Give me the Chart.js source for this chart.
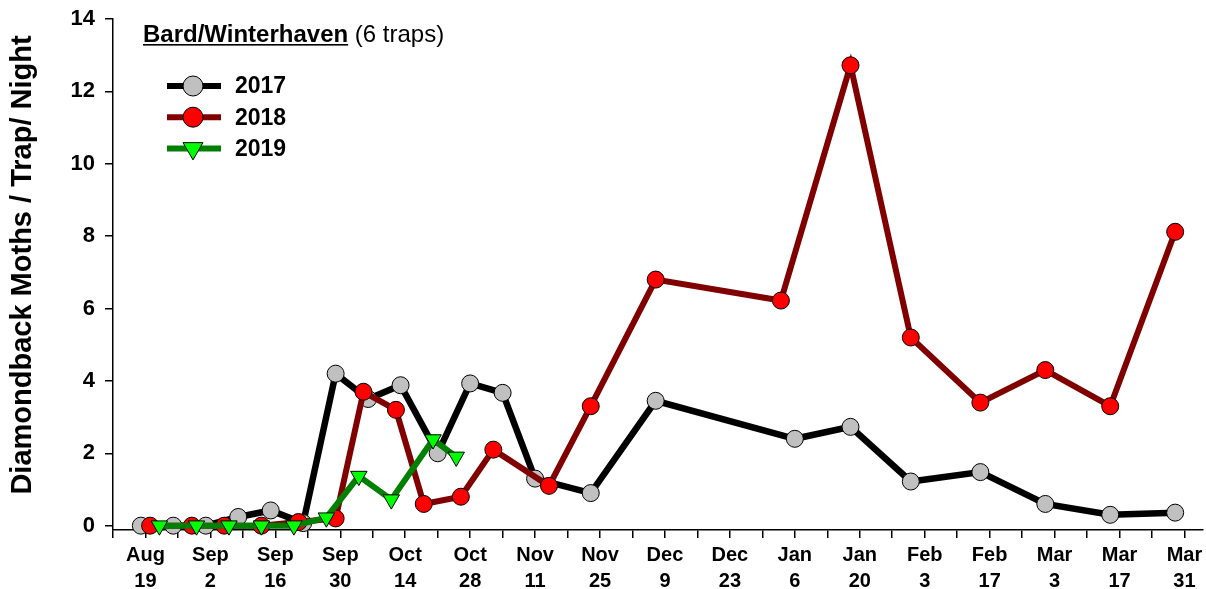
<!DOCTYPE html>
<html>
<head>
<meta charset="utf-8">
<script src="https://cdn.jsdelivr.net/npm/chart.js@4.4.1/dist/chart.umd.min.js"></script>
<style>
  body { margin: 0; background: #fff; }
</style>
</head>
<body>
<canvas id="chart" width="1206" height="589"></canvas>
<script>
// x values are days counted from Aug 19
const days2017 = [-1, 6, 13, 20, 27, 34, 41, 48, 55, 63, 70, 77, 84, 96, 110, 140, 152, 165, 180, 194, 208, 222];
const moths2017 = [0, 0, 0, 0.24, 0.42, 0.07, 4.2, 3.5, 3.88, 2.0, 3.93, 3.67, 1.3, 0.9, 3.45, 2.4, 2.73, 1.22, 1.48, 0.6, 0.3, 0.36];

const days2018 = [1, 10, 17, 25, 33, 41, 47, 54, 60, 68, 75, 87, 96, 110, 137, 152, 165, 180, 194, 208, 222];
const moths2018 = [0, 0, 0, 0, 0.1, 0.2, 3.7, 3.2, 0.6, 0.8, 2.1, 1.1, 3.3, 6.8, 6.22, 12.72, 5.2, 3.4, 4.3, 3.3, 8.12];

const days2019 = [3, 11, 18, 25, 32, 39, 46, 53, 62, 67];
const moths2019 = [0, 0, 0, 0, 0, 0.22, 1.37, 0.72, 2.38, 1.9];

// one label every 14 days, starting Aug 19
const xTickLabels = [
  ["Aug", "19"], ["Sep", "2"], ["Sep", "16"], ["Sep", "30"], ["Oct", "14"],
  ["Oct", "28"], ["Nov", "11"], ["Nov", "25"], ["Dec", "9"], ["Dec", "23"],
  ["Jan", "6"], ["Jan", "20"], ["Feb", "3"], ["Feb", "17"], ["Mar", "3"],
  ["Mar", "17"], ["Mar", "31"],
];
const yTicks = [0, 2, 4, 6, 8, 10, 12, 14];

const FONT = "'Liberation Sans', Arial, sans-serif";

function points(days, values) {
  return days.map((d, i) => ({ x: d, y: values[i] }));
}

function drawMarker(ctx, ds, x, y, r) {
  ctx.fillStyle = ds.pointBackgroundColor;
  ctx.strokeStyle = "#000";
  ctx.lineWidth = 1;
  ctx.beginPath();
  if (ds.pointStyle === "triangle") {
    ctx.moveTo(x, y + r);
    ctx.lineTo(x - 0.866 * r, y - 0.5 * r);
    ctx.lineTo(x + 0.866 * r, y - 0.5 * r);
    ctx.closePath();
  } else {
    ctx.arc(x, y, r, 0, Math.PI * 2);
  }
  ctx.fill();
  ctx.stroke();
}

const legendPlugin = {
  id: "trapLegend",
  afterDatasetsDraw(chart) {
    const ctx = chart.ctx;
    ctx.save();
    ctx.fillStyle = "#000";
    ctx.textBaseline = "alphabetic";
    ctx.font = "bold 24px " + FONT;
    ctx.fillText("Bard/Winterhaven", 143, 42);
    const w = ctx.measureText("Bard/Winterhaven").width;
    ctx.fillRect(143, 44, w, 1.6);
    ctx.font = "24px " + FONT;
    ctx.fillText(" (6 traps)", 143 + w, 42);

    chart.data.datasets.forEach((ds, i) => {
      const y = 86 + i * 31.2;
      ctx.strokeStyle = ds.borderColor;
      ctx.lineWidth = 6;
      ctx.beginPath();
      ctx.moveTo(167, y);
      ctx.lineTo(221, y);
      ctx.stroke();
      drawMarker(ctx, ds, 193, y, ds.pointStyle === "triangle" ? 11.5 : 10);
      ctx.fillStyle = "#000";
      ctx.font = "bold 23px " + FONT;
      ctx.textBaseline = "middle";
      ctx.fillText(ds.label, 235, y + 1);
    });

    // y axis title, a little above the axis centre as in the original
    ctx.translate(23, 265);
    ctx.rotate(-Math.PI / 2);
    ctx.font = "bold 29px " + FONT;
    ctx.textAlign = "center";
    ctx.textBaseline = "middle";
    ctx.fillText("Diamondback Moths / Trap/ Night", 0, 0);
    ctx.restore();
  },
};

const data = {
  datasets: [
    {
      label: "2017",
      data: points(days2017, moths2017),
      borderColor: "#000000",
      borderWidth: 6.5,
      pointBackgroundColor: "#c0c0c0",
      pointBorderColor: "#000",
      pointBorderWidth: 1,
      pointRadius: 8.5,
      pointStyle: "circle",
      order: 3,
    },
    {
      label: "2018",
      data: points(days2018, moths2018),
      borderColor: "#800000",
      borderWidth: 6,
      pointBackgroundColor: "#ff0000",
      pointBorderColor: "#000",
      pointBorderWidth: 1,
      pointRadius: 8.5,
      pointStyle: "circle",
      order: 2,
    },
    {
      label: "2019",
      data: points(days2019, moths2019),
      borderColor: "#008000",
      borderWidth: 6,
      pointBackgroundColor: "#00ff00",
      pointBorderColor: "#000",
      pointBorderWidth: 1,
      pointRadius: 9.5,
      pointStyle: "triangle",
      pointRotation: 180,
      order: 1,
    },
  ],
};

const config = {
  type: "line",
  data: data,
  plugins: [legendPlugin],
  options: {
    responsive: false,
    animation: false,
    layout: { autoPadding: false, padding: { top: 19, right: 3, left: 0, bottom: 0 } },
    elements: { line: { tension: 0 } },
    datasets: { line: { clip: false } },
    plugins: {
      legend: { display: false },
      tooltip: { enabled: false },
    },
    scales: {
      x: {
        type: "linear",
        min: -7,
        max: 228,
        grid: {
          drawOnChartArea: false,
          drawTicks: true,
          tickLength: 8,
          color: "#000",
          lineWidth: 1.5,
        },
        border: { display: true, color: "#000", width: 1.5 },
        ticks: {
          autoSkip: false,
          maxRotation: 0,
          minRotation: 0,
          padding: 4,
          color: "#000",
          font: { family: FONT, size: 20, weight: "bold", lineHeight: 1.3 },
          callback: function (value) {
            if (value >= 0 && value % 14 === 0) return xTickLabels[value / 14];
            return "";
          },
        },
        afterBuildTicks: function (scale) {
          const t = [];
          for (let d = -7; d <= 224; d += 7) t.push({ value: d });
          scale.ticks = t;
        },
        afterFit: function (scale) {
          scale.height = 59;
          scale.paddingLeft = 0;
          scale.paddingRight = 0;
        },
      },
      y: {
        min: -0.12,
        max: 14,
        grid: {
          drawOnChartArea: false,
          drawTicks: true,
          tickLength: 8,
          color: "#000",
          lineWidth: 1.5,
        },
        border: { display: true, color: "#000", width: 1.5 },
        ticks: {
          padding: 10,
          color: "#000",
          font: { family: FONT, size: 22, weight: "bold" },
        },
        afterBuildTicks: function (scale) {
          scale.ticks = yTicks.map((v) => ({ value: v }));
        },
        afterFit: function (scale) {
          scale.width = 113;
          scale.paddingTop = 0;
          scale.paddingBottom = 0;
        },
      },
    },
  },
};

new Chart("chart", config);
</script>
</body>
</html>
